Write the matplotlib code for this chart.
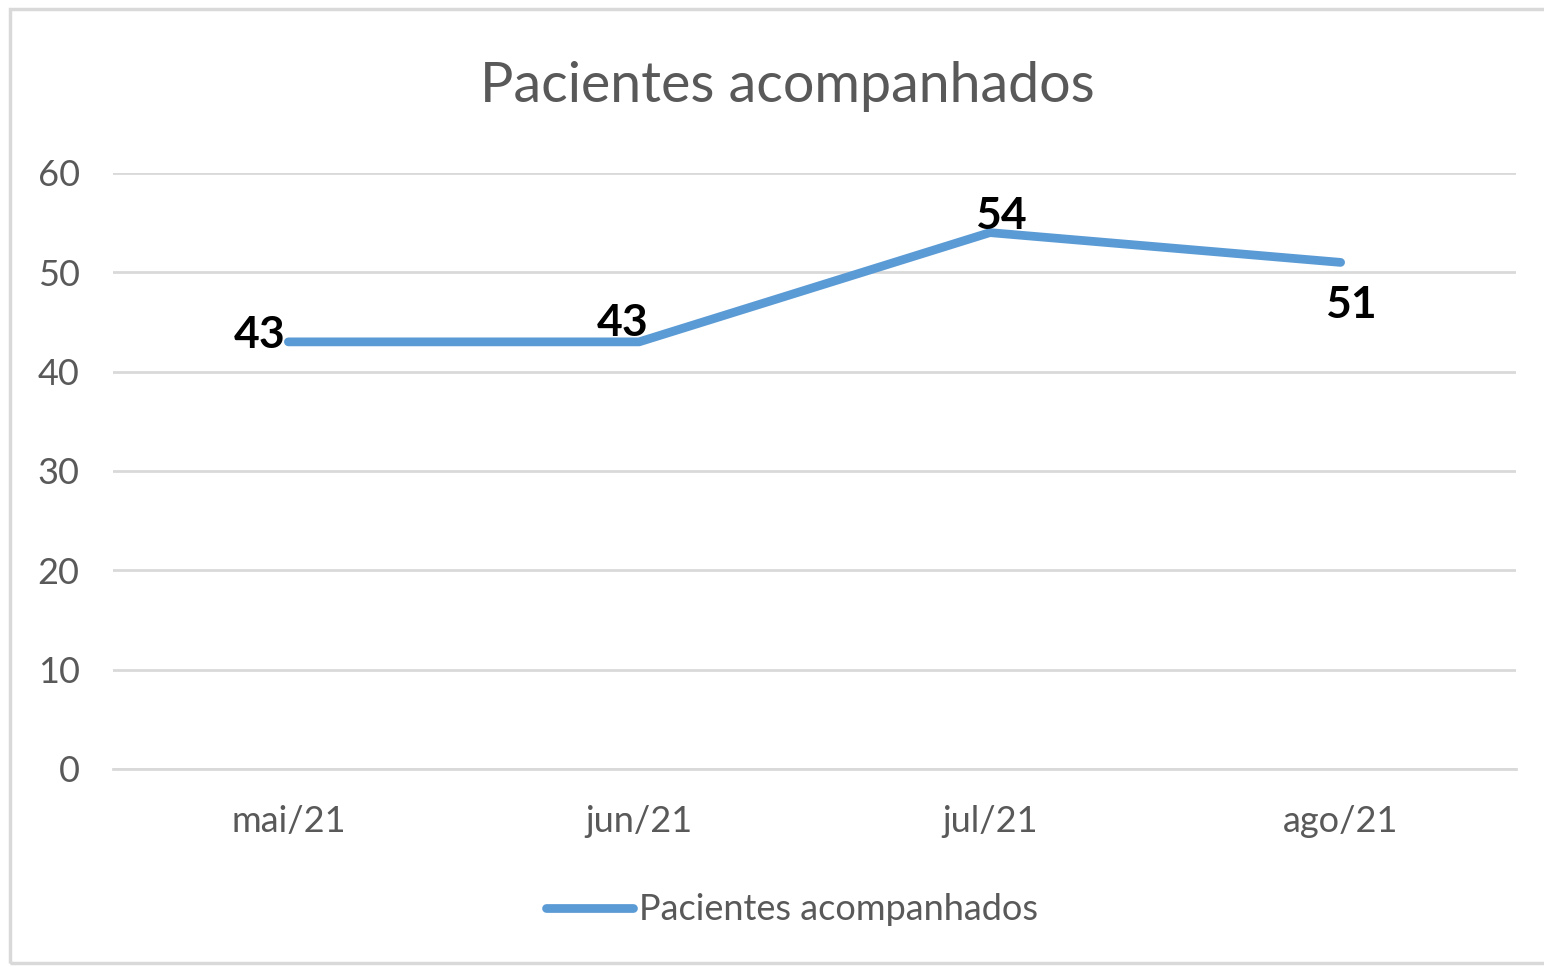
import matplotlib.pyplot as plt
from matplotlib.patches import Rectangle

plt.rcParams['font.family'] = ['Lato', 'DejaVu Sans']

meses = ['mai/21', 'jun/21', 'jul/21', 'ago/21']
pacientes = [43, 43, 54, 51]
yticks = [0, 10, 20, 30, 40, 50, 60]
titulo = 'Pacientes acompanhados'

W, H = 1544, 967
fig = plt.figure(figsize=(W / 100, H / 100), dpi=100)
ax = fig.add_axes([113 / W, 1 - 769 / H, (1516 - 113) / W, (769 - 173) / H])

x = [i + 0.5 for i in range(len(meses))]
ax.plot(x, pacientes, color='#5B9BD5', lw=6.3, solid_capstyle='round',
        solid_joinstyle='round', label=titulo, zorder=3)

ax.set_xlim(0, len(meses))
ax.set_ylim(0, 60)
ax.set_yticks(yticks)
ax.set_xticks(x)
ax.set_xticklabels(meses)
ax.grid(axis='y', color='#D9D9D9', lw=2)
ax.set_axisbelow(True)
for s in ['top', 'right', 'left']:
    ax.spines[s].set_visible(False)
ax.spines['bottom'].set_color('#D9D9D9')
ax.spines['bottom'].set_linewidth(2)
ax.tick_params(length=0, labelsize=26, labelcolor='#595959')
ax.tick_params(axis='y', pad=24)
ax.tick_params(axis='x', pad=26)

# data labels (offsets in points)
offs = [(-21, 5), (-12, 13.5), (8, 12), (7, -31)]
for xi, v, (dx, dy) in zip(x, pacientes, offs):
    ax.annotate(str(v), (xi, v), xytext=(dx, dy), textcoords='offset points',
                ha='center', va='center', fontsize=32, fontweight='bold', color='black')

fig.text(787 / W, 1 - 87 / H, titulo, ha='center', va='center', fontsize=40, color='#595959')

leg = ax.legend(loc='center', bbox_to_anchor=(792 / W, 1 - 910 / H),
                bbox_transform=fig.transFigure, frameon=False, fontsize=26,
                handlelength=2.4, handletextpad=0.15, labelcolor='#595959')

fig.patches.append(Rectangle((10 / W, 0.004), 1.2, 1 - 9 / H - 0.004, transform=fig.transFigure,
                             fill=False, edgecolor='#D9D9D9', lw=2.5))

fig.savefig('out.png', dpi=100)
